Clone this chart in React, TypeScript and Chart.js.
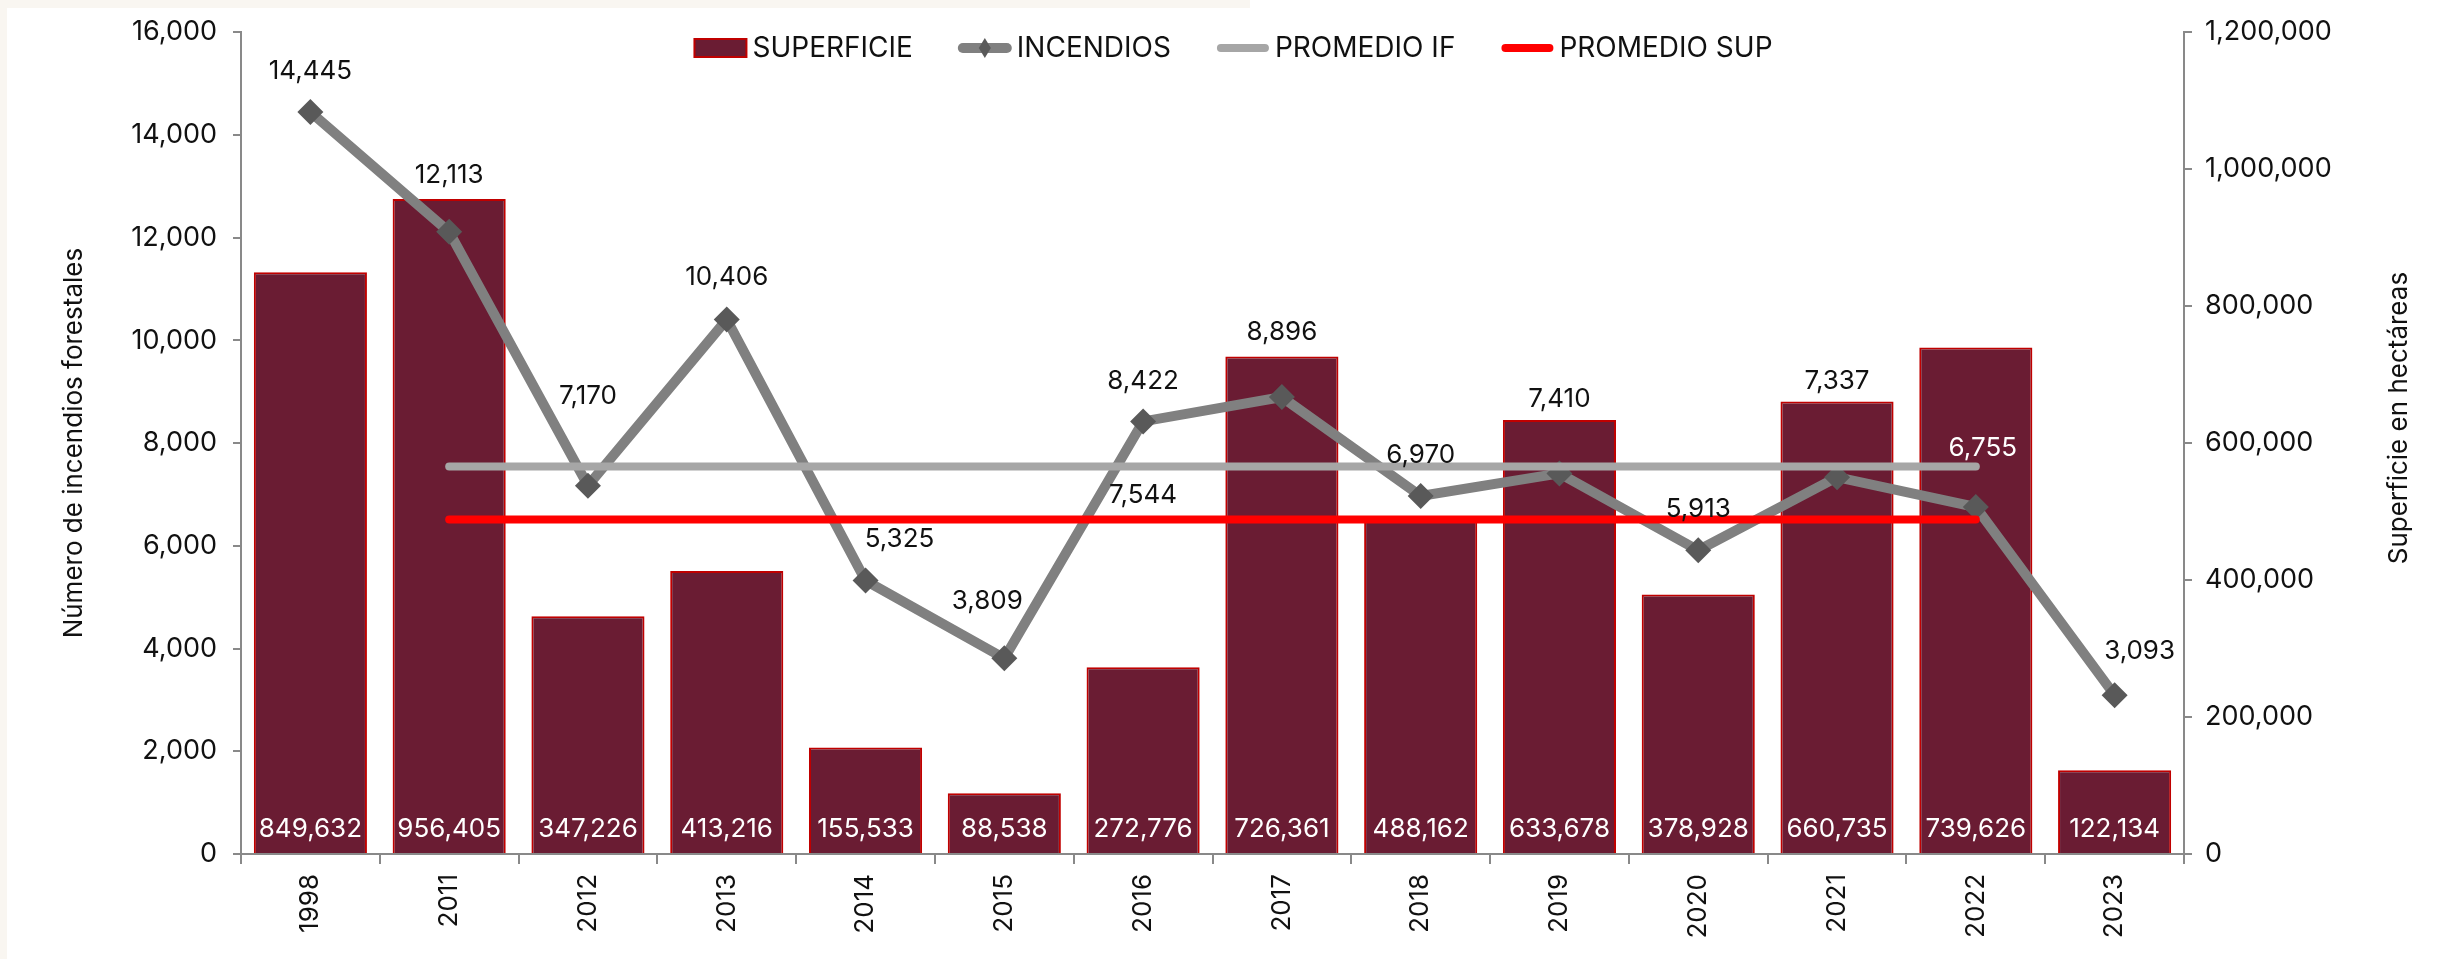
import React, { useEffect, useRef } from 'react';
import { Chart, registerables } from 'chart.js';

Chart.register(...registerables);

// ---------- DATA ----------
const categories = ['1998', '2011', '2012', '2013', '2014', '2015', '2016', '2017', '2018', '2019', '2020', '2021', '2022', '2023'];
const superficie = [849632, 956405, 347226, 413216, 155533, 88538, 272776, 726361, 488162, 633678, 378928, 660735, 739626, 122134];
const incendios = [14445, 12113, 7170, 10406, 5325, 3809, 8422, 8896, 6970, 7410, 5913, 7337, 6755, 3093];
const promedioIF = [null, 7544, 7544, 7544, 7544, 7544, 7544, 7544, 7544, 7544, 7544, 7544, 7544, null];
const promedioSup = [null, 488432, 488432, 488432, 488432, 488432, 488432, 488432, 488432, 488432, 488432, 488432, 488432, null];
const seriesNames = ['SUPERFICIE', 'INCENDIOS', 'PROMEDIO IF', 'PROMEDIO SUP'];
const leftAxisMax = 16000;
const leftAxisStep = 2000;
const rightAxisMax = 1200000;
const rightAxisStep = 200000;
const leftTitle = 'Número de incendios forestales';
const rightTitle = 'Superficie en hectáreas';
const promedioIFLabelIndex = 6;

// ---------- STYLE / PLACEMENT ----------
const FONT = 'Inter, "Open Sans", sans-serif';
const BAR_FILL = '#6A1C33';
const BAR_BORDER = '#C00000';
const LINE_GREY = '#808080';
const MARKER_GREY = '#595959';
const AVG_IF = '#A6A6A6';
const AVG_SUP = '#FF0000';
const AXIS = '#898989';
const TEXT = '#111111';
// label offsets (px) for the INCENDIOS data labels, relative to each point
const incLabelDx = [0, 0, 0, 0, 34, -17, 0, 0, 0, 0, 0, 0, 7, 25];
const incLabelDy = [-41, -57, -90, -42, -41, -57, -40, -65, -41, -74, -41, -96, -59, -44];
const incLabelWhite = [false, false, false, false, false, false, false, false, false, false, false, false, true, false];

const fmt = (v: number) => Math.round(v).toLocaleString('en-US');

const decorPlugin = {
  id: 'decor',
  beforeDraw(chart: any) {
    const { ctx, width, height } = chart;
    ctx.save();
    ctx.fillStyle = '#ffffff';
    ctx.fillRect(0, 0, width, height);
    ctx.fillStyle = '#f9f6f1';
    ctx.fillRect(0, 0, 7, height);
    ctx.fillRect(0, 0, 1250, 8);
    ctx.restore();
  },
  afterDatasetsDraw(chart: any) {
    const { ctx, chartArea } = chart;
    ctx.save();
    ctx.font = `26px ${FONT}`;
    ctx.textAlign = 'center';
    ctx.textBaseline = 'middle';
    // bar labels (white, inside bottom)
    const barMeta = chart.getDatasetMeta(0);
    barMeta.data.forEach((el: any, i: number) => {
      ctx.fillStyle = '#ffffff';
      ctx.fillText(fmt(superficie[i]), el.x, chartArea.bottom - 25);
    });
    // incendios labels
    const lineMeta = chart.getDatasetMeta(1);
    lineMeta.data.forEach((el: any, i: number) => {
      ctx.fillStyle = incLabelWhite[i] ? '#ffffff' : TEXT;
      ctx.fillText(fmt(incendios[i]), el.x + incLabelDx[i], el.y + incLabelDy[i]);
    });
    // promedio IF label
    const avgMeta = chart.getDatasetMeta(2);
    const p = avgMeta.data[promedioIFLabelIndex];
    if (p) {
      ctx.fillStyle = TEXT;
      ctx.fillText(fmt(promedioIF[promedioIFLabelIndex] as number), p.x, p.y + 29);
    }
    ctx.restore();
  },
  afterDraw(chart: any) {
    const { ctx, chartArea } = chart;
    ctx.save();
    // right axis title (reads bottom-to-top)
    ctx.font = `26px ${FONT}`;
    ctx.fillStyle = TEXT;
    ctx.textAlign = 'center';
    ctx.textBaseline = 'middle';
    ctx.translate(chartArea.right + 215, (chartArea.top + chartArea.bottom) / 2 - 25);
    ctx.rotate(-Math.PI / 2);
    ctx.fillText(rightTitle, 0, 0);
    ctx.restore();

    // legend
    ctx.save();
    ctx.font = `28px ${FONT}`;
    ctx.textBaseline = 'middle';
    ctx.textAlign = 'left';
    const swW = 54;
    const gapText = 5;
    const gapItem = 45;
    const widths = seriesNames.map((n) => swW + gapText + ctx.measureText(n).width);
    const total = widths.reduce((a, b) => a + b, 0) + gapItem * (seriesNames.length - 1);
    let x = 1233 - total / 2;
    const y = 48;
    seriesNames.forEach((name, i) => {
      if (i === 0) {
        ctx.fillStyle = BAR_FILL;
        ctx.fillRect(x + 1, y - 9, swW - 2, 18);
        ctx.strokeStyle = BAR_BORDER;
        ctx.lineWidth = 2;
        ctx.strokeRect(x + 1, y - 9, swW - 2, 18);
      } else {
        const col = i === 1 ? LINE_GREY : i === 2 ? AVG_IF : AVG_SUP;
        ctx.strokeStyle = col;
        ctx.lineWidth = i === 1 ? 10 : 8;
        ctx.lineCap = 'round';
        ctx.beginPath();
        ctx.moveTo(x + 5, y);
        ctx.lineTo(x + swW - 5, y);
        ctx.stroke();
        if (i === 1) {
          ctx.fillStyle = MARKER_GREY;
          ctx.beginPath();
          ctx.moveTo(x + swW / 2, y - 10);
          ctx.lineTo(x + swW / 2 + 6, y);
          ctx.lineTo(x + swW / 2, y + 10);
          ctx.lineTo(x + swW / 2 - 6, y);
          ctx.closePath();
          ctx.fill();
        }
      }
      ctx.fillStyle = TEXT;
      ctx.fillText(name, x + swW + gapText, y + 1);
      x += widths[i] + gapItem;
    });
    ctx.restore();
  },
};

export default function App() {
  const ref = useRef<HTMLCanvasElement | null>(null);

  useEffect(() => {
    document.body.style.margin = '0';
    document.body.style.background = '#ffffff';
    const canvas = ref.current;
    if (!canvas) return;
    const chart = new Chart(canvas, {
      type: 'bar',
      data: {
        labels: categories,
        datasets: [
          {
            type: 'bar',
            label: seriesNames[0],
            data: superficie,
            yAxisID: 'y1',
            backgroundColor: BAR_FILL,
            borderColor: BAR_BORDER,
            borderWidth: 2,
            categoryPercentage: 1,
            barPercentage: 0.815,
            order: 4,
          },
          {
            type: 'line',
            label: seriesNames[1],
            data: incendios,
            yAxisID: 'y',
            borderColor: LINE_GREY,
            borderWidth: 10,
            pointStyle: 'rectRot',
            pointRadius: 13,
            pointBackgroundColor: MARKER_GREY,
            pointBorderColor: MARKER_GREY,
            pointBorderWidth: 0,
            tension: 0,
            order: 3,
          },
          {
            type: 'line',
            label: seriesNames[2],
            data: promedioIF,
            yAxisID: 'y',
            borderColor: AVG_IF,
            borderWidth: 8,
            borderCapStyle: 'round',
            pointRadius: 0,
            order: 2,
          },
          {
            type: 'line',
            label: seriesNames[3],
            data: promedioSup,
            yAxisID: 'y1',
            borderColor: AVG_SUP,
            borderWidth: 8,
            borderCapStyle: 'round',
            pointRadius: 0,
            order: 1,
          },
        ] as any,
      },
      options: {
        responsive: false,
        animation: false,
        devicePixelRatio: 1,
        layout: { padding: { top: 26, left: 0, right: 0, bottom: 0 } },
        plugins: {
          legend: { display: false },
          tooltip: { enabled: false },
        },
        scales: {
          x: {
            offset: true,
            grid: { offset: true, drawOnChartArea: false, tickLength: 10, color: AXIS, lineWidth: 2 },
            border: { display: true, color: AXIS, width: 2 },
            ticks: { minRotation: 90, maxRotation: 90, padding: 10, color: TEXT, font: { family: FONT, size: 26 } },
            afterFit: (s: any) => { s.height = 105; },
          },
          y: {
            position: 'left',
            min: 0,
            max: leftAxisMax,
            grid: { drawOnChartArea: false, tickLength: 8, color: AXIS, lineWidth: 2 },
            border: { display: true, color: AXIS, width: 2 },
            ticks: { stepSize: leftAxisStep, padding: 16, color: TEXT, font: { family: FONT, size: 27 }, callback: (v: any) => fmt(Number(v)) },
            title: { display: true, text: leftTitle, color: TEXT, font: { family: FONT, size: 26 }, padding: { top: 59, bottom: 0 } },
            afterFit: (s: any) => { s.width = 241; },
          },
          y1: {
            position: 'right',
            min: 0,
            max: rightAxisMax,
            grid: { drawOnChartArea: false, tickLength: 8, color: AXIS, lineWidth: 2 },
            border: { display: true, color: AXIS, width: 2 },
            ticks: { stepSize: rightAxisStep, padding: 13, color: TEXT, font: { family: FONT, size: 27 }, callback: (v: any) => fmt(Number(v)) },
            afterFit: (s: any) => { s.width = 254; },
          },
        },
      } as any,
      plugins: [decorPlugin],
    });
    return () => chart.destroy();
  }, []);

  return (
    <div style={{ position: 'absolute', left: 0, top: 0, width: 2438, height: 959 }}>
      <canvas ref={ref} width={2438} height={959} style={{ width: 2438, height: 959, display: 'block' }} />
    </div>
  );
}
